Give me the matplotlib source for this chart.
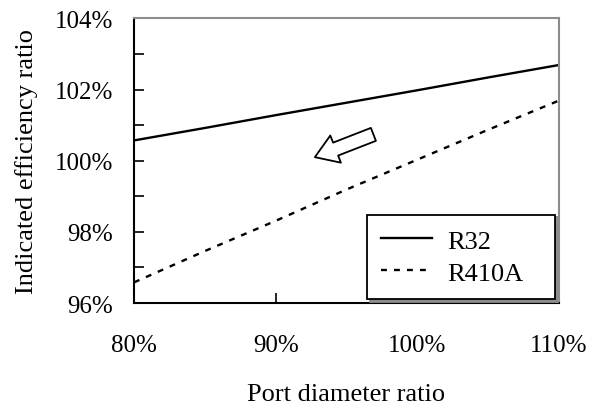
import numpy as np
import matplotlib.pyplot as plt
from matplotlib.ticker import FuncFormatter, MultipleLocator

plt.rcParams['font.family'] = ['Liberation Serif', 'DejaVu Serif']

# data
port_ratio = [80, 85, 90, 95, 100, 105, 110]
r32 = [100.57, 100.92, 101.28, 101.63, 101.98, 102.34, 102.69]
r410a = [96.58, 97.46, 98.31, 99.19, 100.03, 100.87, 101.69]

fig = plt.figure(figsize=(6.01, 4.06), dpi=100)
ax = fig.add_axes([0.223, 0.2512, 0.707, 0.701])

ax.plot(port_ratio, r32, color='black', lw=1.7, label='R32')
ax.plot(port_ratio, r410a, color='black', lw=1.7, dashes=(2.5, 3), label='R410A')

ax.set_xlim(80, 110)
ax.set_ylim(96, 104)
ax.xaxis.set_major_locator(MultipleLocator(10))
ax.yaxis.set_major_locator(MultipleLocator(2))
ax.yaxis.set_minor_locator(MultipleLocator(1))
ax.xaxis.set_major_formatter(FuncFormatter(lambda v, p: f'{v:.0f}%'))
ax.yaxis.set_major_formatter(FuncFormatter(lambda v, p: f'{v:.0f}%'))
ax.tick_params(axis='both', which='both', direction='in', labelsize=18,
               width=1.2, color='black')
ax.tick_params(axis='x', length=7, pad=22)
ax.tick_params(axis='y', which='major', length=7, pad=15)
ax.tick_params(axis='y', which='minor', length=7)

for s in ['left', 'bottom']:
    ax.spines[s].set_linewidth(1.5)
    ax.spines[s].set_color('black')
for s in ['top', 'right']:
    ax.spines[s].set_linewidth(1.5)
    ax.spines[s].set_color('#8c8c8c')

ax.set_xlabel('Port diameter ratio', fontsize=19, labelpad=20)
ax.set_ylabel('Indicated efficiency ratio', fontsize=19, labelpad=12)

ax.annotate('', xy=(92.77, 100.1), xytext=(96.9, 100.74),
            arrowprops=dict(arrowstyle='simple,head_width=1.05,head_length=0.8,tail_width=0.5',
                            mutation_scale=20, fc='white', ec='black', lw=1.3,
                            shrinkA=0, shrinkB=0))

leg = ax.legend(loc='lower left', bbox_to_anchor=(0.548, 0.014, 0.443, 0.29),
                mode='expand', fontsize=19, frameon=True, fancybox=False,
                edgecolor='black', handlelength=1.93, handletextpad=0.57,
                borderaxespad=0, labelspacing=0.32, borderpad=0.55,
                shadow={'color': '0.55', 'alpha': 1})
leg.get_frame().set_linewidth(1.3)

fig.savefig('out.png', dpi=100)
